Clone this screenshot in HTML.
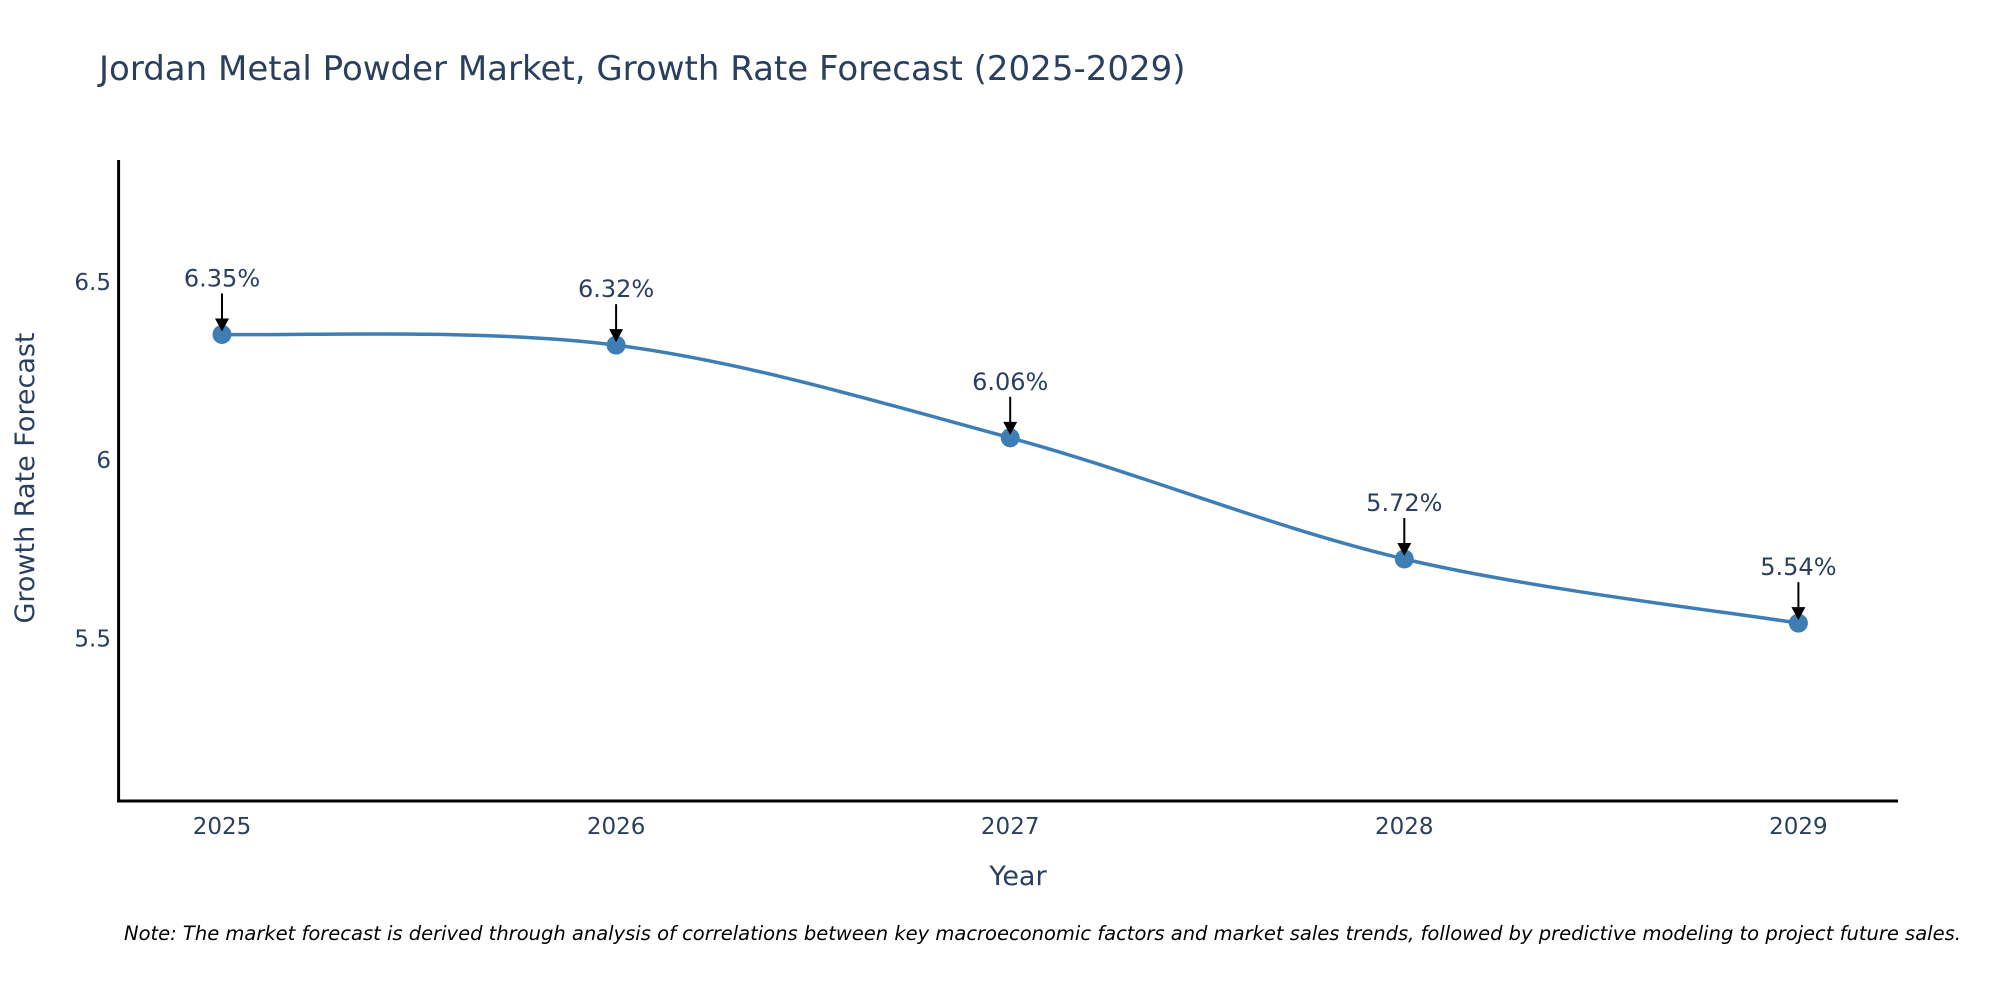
<!DOCTYPE html>
<html><head><meta charset="utf-8"><style>
body{margin:0;background:#fff;}
svg{display:block;font-family:"DejaVu Sans","Liberation Sans",sans-serif;}
</style></head><body>
<svg id="chart" width="2000" height="1000" viewBox="0 0 2000 1000">
<text x="99" y="80" font-size="34" fill="#2a3f5f">Jordan Metal Powder Market, Growth Rate Forecast (2025-2029)</text>
<g id="plot"></g>
<text x="1018" y="885" font-size="27" fill="#2a3f5f" text-anchor="middle">Year</text>
<text transform="translate(34,478) rotate(-90)" font-size="27" fill="#2a3f5f" text-anchor="middle">Growth Rate Forecast</text>
<text x="124" y="940" font-size="19.5" font-style="italic" fill="#000">Note: The market forecast is derived through analysis of correlations between key macroeconomic factors and market sales trends, followed by predictive modeling to project future sales.</text>
</svg>
<script>
const years=[2025,2026,2027,2028,2029];
const values=[6.35,6.32,6.06,5.72,5.54];
const labels=["6.35%","6.32%","6.06%","5.72%","5.54%"];
const yTicks=[5.5,6,6.5];
const yTickLabels=["5.5","6","6.5"];
const NS="http://www.w3.org/2000/svg";
const g=document.getElementById('plot');
function xs(y){return 222+(y-2025)*394.1;}
function ys(v){return 459.2-(v-6)*356.4;}
function mk(t,a,p){const e=document.createElementNS(NS,t);for(const k in a)e.setAttribute(k,a[k]);(p||g).appendChild(e);return e;}
let e;
e=mk('line',{x1:118.6,y1:160,x2:118.6,y2:802,stroke:'#000','stroke-width':3});


e=mk('line',{x1:117,y1:801,x2:1898,y2:801,stroke:'#000','stroke-width':3});


yTicks.forEach((t,i)=>{
 e=mk('text',{x:111,y:ys(t)+9,'font-size':23,fill:'#2a3f5f','text-anchor':'end'});
 e.textContent=yTickLabels[i];
 
 
});
years.forEach(y=>{
 e=mk('text',{x:xs(y),y:834,'font-size':23,fill:'#2a3f5f','text-anchor':'middle'});
 e.textContent=String(y);
 
 
});
const P=years.map((y,i)=>[xs(y),ys(values[i])]);
let d='M'+P[0][0]+','+P[0][1];
const s=1/6;
for(let i=0;i<P.length-1;i++){
 const p0=P[i-1]||P[i],p1=P[i],p2=P[i+1],p3=P[i+2]||P[i+1];
 d+=' C'+(p1[0]+(p2[0]-p0[0])*s)+','+(p1[1]+(p2[1]-p0[1])*s)+' '+(p2[0]-(p3[0]-p1[0])*s)+','+(p2[1]-(p3[1]-p1[1])*s)+' '+p2[0]+','+p2[1];
}
e=mk('path',{d:d,fill:'none',stroke:'#3d7eb4','stroke-width':3.5});


P.forEach((p,i)=>{
 e=mk('circle',{cx:p[0],cy:p[1],r:9.5,fill:'#3d7eb4'});
 
 
 e=mk('line',{x1:p[0],y1:p[1]-41,x2:p[0],y2:p[1]-14,stroke:'#000','stroke-width':2});
 
 
 e=mk('polygon',{points:(p[0]-7)+','+(p[1]-16)+' '+(p[0]+7)+','+(p[1]-16)+' '+p[0]+','+(p[1]-3),fill:'#000'});
 
 
 e=mk('text',{x:p[0],y:p[1]-48,'font-size':24,fill:'#2a3f5f','text-anchor':'middle'});
 e.textContent=labels[i];
 
 
});
</script>
</body></html>
